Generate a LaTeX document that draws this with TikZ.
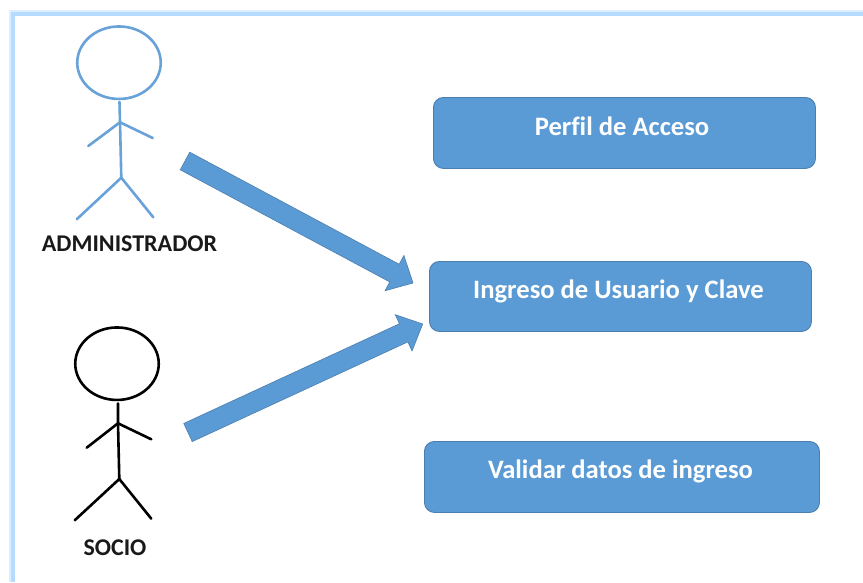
\documentclass[tikz,border=0pt]{standalone}
\usepackage{fontspec}
\setmainfont{Carlito}[Ligatures=NoCommon]
\usetikzlibrary{calc,shapes.geometric}
\definecolor{boxblue}{HTML}{5B9BD5}
\definecolor{boxedge}{HTML}{4A7EAE}
\definecolor{actorblue}{HTML}{68A2D9}
\definecolor{framea}{HTML}{B5DBFF}
\definecolor{frameb}{HTML}{DCEEFF}
\tikzset{
  x=1pt,y=-1pt,
  boxnode/.style={draw=boxedge,line width=0.9pt,fill=boxblue,rounded corners=10pt,inner sep=0pt,anchor=north west},
  boxtext/.style={text=white,font=\fontsize{26.6}{30}\selectfont\bfseries,inner sep=0pt},
  actorlabel/.style={text=black!90,font=\fontsize{24}{28}\selectfont\bfseries,inner sep=0pt},
  limb/.style={line width=2.6pt,line cap=round,line join=round},
  headshape/.style={ellipse,draw,line width=2.6pt,minimum width=83.5pt,minimum height=72.5pt,inner sep=0pt},
  blockarrow/.style={draw=boxedge,line width=0.6pt,fill=boxblue,line join=miter},
}
% tail, tip: named coordinates
\newcommand{\blockarrowdraw}[2]{%
  \coordinate (h) at ($(#2)!21pt!(#1)$);
  \draw[blockarrow]
    ($(#1)!10pt!90:(#2)$) --
    ($(h)!10pt!90:(#2)$) --
    ($(h)!20pt!90:(#2)$) --
    (#2) --
    ($(h)!20pt!-90:(#2)$) --
    ($(h)!10pt!-90:(#2)$) --
    ($(#1)!10pt!-90:(#2)$) -- cycle;
}
\begin{document}
\begin{tikzpicture}
\useasboundingbox (0,0) rectangle (863,582);
\fill[white] (0,0) rectangle (863,582);
% frame, open towards the right and bottom edges
\fill[frameb] (9,10) rectangle (863,582);
\fill[framea] (10.5,11.5) rectangle (863,582);
\fill[white] (15,16) rectangle (863,582);

% administrator
\node[headshape,draw=actorblue] (headA) at (119,62.7) {};
\coordinate (neckA) at (119.5,102);
\coordinate (shoulderA) at (120,122.3);
\coordinate (hipA) at (121.3,177.7);
\coordinate (handAl) at (88.3,146);
\coordinate (handAr) at (152.7,138);
\coordinate (footAl) at (76.7,219.3);
\coordinate (footAr) at (153.3,217.3);
\draw[limb,actorblue] (neckA) -- (shoulderA) -- (hipA);
\draw[limb,actorblue] (handAl) -- (shoulderA) -- (handAr);
\draw[limb,actorblue] (footAl) -- (hipA) -- (footAr);
\node[actorlabel] (labelA) at (129.5,244) {ADMINISTRADOR};

% socio
\node[headshape,draw=black] (headS) at (117,363.7) {};
\coordinate (neckS) at (118,403.3);
\coordinate (shoulderS) at (118,423.3);
\coordinate (hipS) at (119.3,479);
\coordinate (handSl) at (86.7,447.7);
\coordinate (handSr) at (151.3,439.3);
\coordinate (footSl) at (74.7,520.3);
\coordinate (footSr) at (151.3,518.7);
\draw[limb,black] (neckS) -- (shoulderS) -- (hipS);
\draw[limb,black] (handSl) -- (shoulderS) -- (handSr);
\draw[limb,black] (footSl) -- (hipS) -- (footSr);
\node[actorlabel] (labelS) at (115,548) {SOCIO};

% boxes
\node[boxnode,minimum width=382pt,minimum height=71pt] (perfil) at (433,97) {};
\node[boxtext] at (622,126) {Perfil de Acceso};
\node[boxnode,minimum width=382pt,minimum height=70pt] (ingreso) at (429,261) {};
\node[boxtext] at (618.5,291) {Ingreso de Usuario y Clave};
\node[boxnode,minimum width=395pt,minimum height=71pt] (validar) at (424,441) {};
\node[boxtext] at (620.5,471) {Validar datos de ingreso};

% arrows
\coordinate (tailA) at (185,161);
\coordinate (tipA) at (413,283);
\coordinate (tailS) at (188,432.5);
\coordinate (tipS) at (422.7,324);
\blockarrowdraw{tailA}{tipA}
\blockarrowdraw{tailS}{tipS}
\end{tikzpicture}
\end{document}
